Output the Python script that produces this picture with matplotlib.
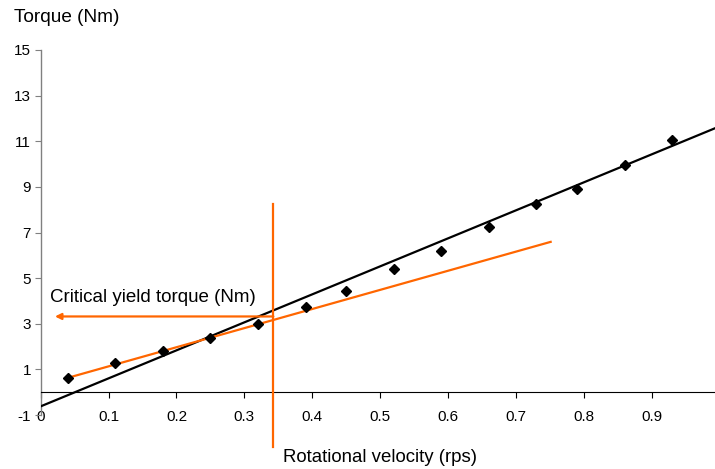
import matplotlib
matplotlib.use("Agg")
import matplotlib.pyplot as plt

plt.rcParams['font.family'] = ['Liberation Sans', 'DejaVu Sans']
plt.rcParams['axes.unicode_minus'] = False

# Data
velocity = [0.04, 0.11, 0.18, 0.25, 0.32, 0.39, 0.45, 0.52, 0.59, 0.66, 0.73, 0.79, 0.86, 0.93]
torque = [0.63, 1.26, 1.82, 2.39, 2.98, 3.73, 4.45, 5.41, 6.17, 7.24, 8.27, 8.90, 9.96, 11.06]

trend_x = [0.0, 0.993]
trend_y = [-0.62, 11.57]

low_x = [0.04, 0.751]
low_y = [0.63, 6.59]

critical_velocity = 0.3426
critical_torque = 3.32
vline_y = [-2.41, 8.24]
arrow_end_x = 0.021

x_ticks = [0, 0.1, 0.2, 0.3, 0.4, 0.5, 0.6, 0.7, 0.8, 0.9]
x_ticklabels = ['0', '0.1', '0.2', '0.3', '0.4', '0.5', '0.6', '0.7', '0.8', '0.9']
y_ticks = [-1, 1, 3, 5, 7, 9, 11, 13, 15]

orange = '#FF6600'

fig = plt.figure(figsize=(7.15, 4.69), dpi=100)
ax = fig.add_axes([0.0569, 0.1151, 0.9431, 0.7783])
ax.set_xlim(0, 0.993)
ax.set_ylim(-1, 15)

ax.plot(trend_x, trend_y, color='black', lw=1.6, zorder=3)
ax.plot(low_x, low_y, color=orange, lw=1.6, zorder=4)
ax.plot(velocity, torque, linestyle='none', marker='D', ms=5.3, color='black', zorder=5)

ax.plot([critical_velocity, critical_velocity], vline_y, color=orange, lw=1.6, clip_on=False, zorder=4)
ax.annotate('', xy=(arrow_end_x, critical_torque), xytext=(critical_velocity, critical_torque),
            arrowprops=dict(arrowstyle='-|>', color=orange, lw=1.6, mutation_scale=9,
                            shrinkA=0, shrinkB=0), zorder=4)

for s in ['top', 'right']:
    ax.spines[s].set_visible(False)
ax.spines['bottom'].set_position(('data', 0))
ax.spines['bottom'].set_color('black')
ax.spines['left'].set_color('#808080')
ax.spines['left'].set_linewidth(1.0)

ax.set_xticks(x_ticks)
ax.set_xticklabels(x_ticklabels)
ax.set_yticks(y_ticks)
ax.tick_params(axis='x', direction='out', length=4, width=0.8, labelsize=11, pad=9, colors='black')
ax.tick_params(axis='y', direction='out', length=4, width=0.8, labelsize=11, pad=3, color='#808080', labelcolor='black')

fig.text(0.0196, 0.962, 'Torque (Nm)', fontsize=13.7, ha='left', va='center')
fig.text(0.070, 0.365, 'Critical yield torque (Nm)', fontsize=13.5, ha='left', va='center')
fig.text(0.396, 0.024, 'Rotational velocity (rps)', fontsize=13.4, ha='left', va='center')

fig.savefig('out.png', dpi=100)
